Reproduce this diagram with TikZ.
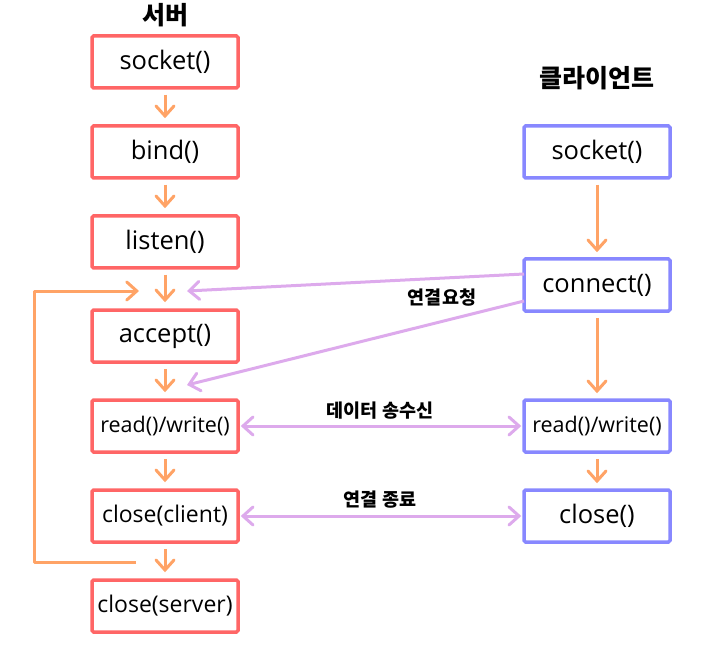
\documentclass[tikz,border=0pt]{standalone}
\usepackage{fontspec}
\setmainfont{Open Sans}
\newfontfamily\kr{Noto Sans CJK KR}
\usetikzlibrary{arrows.meta}
\definecolor{boxred}{RGB}{255,102,102}
\definecolor{boxblue}{RGB}{136,136,255}
\definecolor{arrorange}{RGB}{255,163,102}
\definecolor{arrpurple}{RGB}{221,170,236}
\begin{document}
\begin{tikzpicture}[x=1pt,y=-1pt,
  srv/.style={draw=boxred,line width=3.5pt,rounded corners=1.5pt,minimum width=146pt,minimum height=52pt,inner sep=0pt,font=\fontsize{25.5}{30}\selectfont},
  cli/.style={draw=boxblue,line width=3.5pt,rounded corners=1.5pt,minimum width=146pt,minimum height=52pt,inner sep=0pt,font=\fontsize{25.5}{30}\selectfont},
  small/.style={font=\fontsize{21.5}{26}\selectfont},
  mid/.style={font=\fontsize{23}{27}\selectfont},
  flow/.style={draw=arrorange,line width=3pt,-{Straight Barb[length=10pt,width=18pt,line cap=round]}},
  msg/.style={draw=arrpurple,line width=3pt,-{Straight Barb[length=10pt,width=18pt,line cap=round]}},
  msgb/.style={draw=arrpurple,line width=3pt,{Straight Barb[length=10pt,width=18pt,line cap=round]}-{Straight Barb[length=10pt,width=18pt,line cap=round]}},
  title/.style={font=\kr\bfseries\fontsize{25}{30}\selectfont},
  lbl/.style={font=\kr\bfseries\fontsize{18.5}{22}\selectfont}
]
\useasboundingbox (0,0) rectangle (709,652);
% server
\node[title] (srvt) at (165,15) {서버};
\node[srv] (s1) at (165,62) {socket()};
\node[srv] (s2) at (165,152) {bind()};
\node[srv] (s3) at (165,242) {listen()};
\node[srv] (s4) at (165,336) {accept()};
\node[srv,small] (s5) at (165,426) {read()/write()};
\node[srv,mid] (s6) at (165,516) {close(client)};
\node[srv,mid] (s7) at (165,606) {close(server)};
% client
\node[title] (clit) at (597,78) {클라이언트};
\node[cli] (c1) at (597,152) {socket()};
\node[cli] (c2) at (597,285) {connect()};
\node[cli,small] (c3) at (597,426) {read()/write()};
\node[cli] (c4) at (597,516) {close()};
% server flow
\draw[flow,shorten <=5pt,shorten >=6pt] (s1) -- (s2);
\draw[flow,shorten <=5pt,shorten >=6pt] (s2) -- (s3);
\draw[flow,shorten <=5pt,shorten >=6pt] (s3) -- (s4);
\draw[flow,shorten <=5pt,shorten >=6pt] (s4) -- (s5);
\draw[flow,shorten <=5pt,shorten >=6pt] (s5) -- (s6);
\draw[flow,shorten <=5pt,shorten >=6pt] (s6) -- (s7);
% loop
\coordinate (la) at (136,562);
\coordinate (lb) at (34,562);
\coordinate (lc) at (34,291);
\coordinate (ld) at (139,291);
\draw[flow,line join=round] (la) -- (lb) -- (lc) -- (ld);
% client flow
\draw[flow,shorten <=5pt,shorten >=5pt] (c1) -- (c2);
\draw[flow,shorten <=5pt,shorten >=5pt] (c2) -- (c3);
\draw[flow,shorten <=5pt,shorten >=5pt] (c3) -- (c4);
% requests
\coordinate (r1s) at (524,274);
\coordinate (r1e) at (187,291);
\coordinate (r2s) at (524,301);
\coordinate (r2e) at (187,385);
\draw[msg] (r1s) -- (r1e);
\draw[msg] (r2s) -- (r2e);
\node[lbl] (reqlbl) at (442,298) {연결요청};
% data
\draw[msgb,shorten <=1pt,shorten >=1pt] (s5) -- (c3);
\node[lbl] (datalbl) at (380,411) {데이터 송수신};
\draw[msgb,shorten <=1pt,shorten >=1pt] (s6) -- (c4);
\node[lbl] (endlbl) at (380,500) {연결 종료};
\end{tikzpicture}
\end{document}
